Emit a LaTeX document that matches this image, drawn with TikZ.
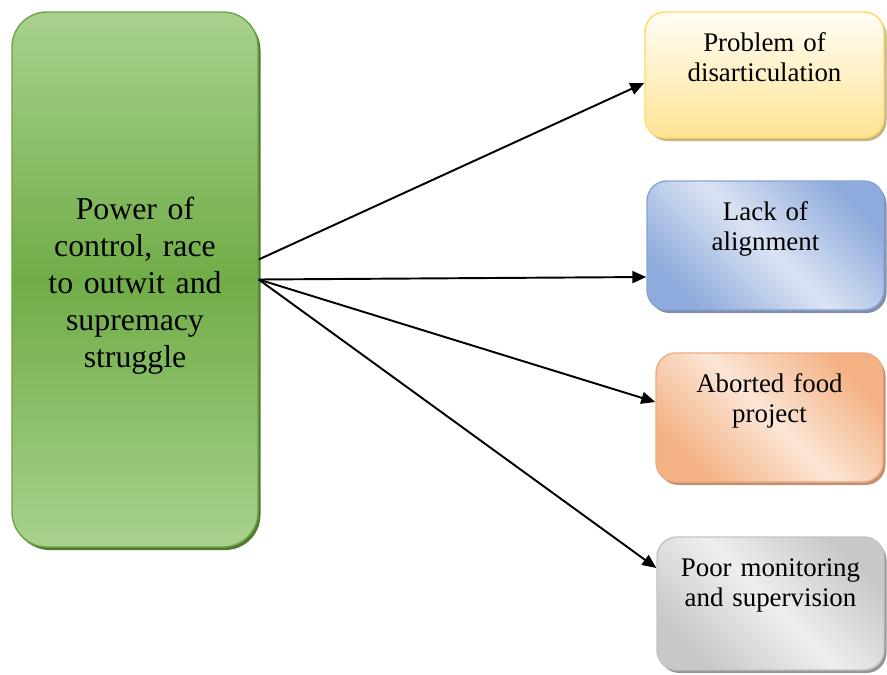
\documentclass[tikz,border=0pt]{standalone}
\usepackage{fontspec}
\setmainfont{Liberation Serif}
\usetikzlibrary{arrows.meta, positioning, shadows}
\definecolor{ctrldark}{RGB}{112,173,71}
\definecolor{ctrllight}{RGB}{169,209,142}
\definecolor{ctrledge}{RGB}{108,165,68}
\definecolor{ctrlshadow}{RGB}{80,122,50}
\definecolor{probdark}{RGB}{255,228,148}
\definecolor{problight}{RGB}{255,253,246}
\definecolor{probedge}{RGB}{255,217,102}
\definecolor{probshadow}{RGB}{196,180,132}
\definecolor{lackdark}{RGB}{143,170,220}
\definecolor{lacklight}{RGB}{218,227,243}
\definecolor{lackedge}{RGB}{135,163,216}
\definecolor{lackshadow}{RGB}{130,142,168}
\definecolor{fooddark}{RGB}{244,177,131}
\definecolor{foodlight}{RGB}{251,229,214}
\definecolor{foodedge}{RGB}{240,170,125}
\definecolor{foodshadow}{RGB}{192,144,112}
\definecolor{monidark}{RGB}{200,200,200}
\definecolor{monilight}{RGB}{238,238,238}
\definecolor{moniedge}{RGB}{195,195,195}
\definecolor{monishadow}{RGB}{150,150,150}

\begin{document}
\begin{tikzpicture}[
  >=Triangle,
  cause/.style={
    rectangle, rounded corners=0.7cm, draw=ctrledge, line width=0.8pt,
    top color=ctrllight, bottom color=ctrllight, middle color=ctrldark,
    drop shadow={shadow xshift=0.05cm, shadow yshift=-0.06cm, fill=ctrlshadow, opacity=1},
    minimum width=4.92cm, minimum height=10.7cm, text width=4.92cm,
    inner sep=0pt, align=center, font=\fontsize{18.1}{21}\selectfont
  },
  effect/.style={
    rectangle, rounded corners=0.4cm, draw=#1edge, line width=0.8pt,
    top color=#1dark, bottom color=#1dark, middle color=#1light, shading angle=-45,
    drop shadow={shadow xshift=0.05cm, shadow yshift=-0.06cm, fill=#1shadow, opacity=1},
    inner sep=0pt, align=center, text height=0.78cm,
    font=\fontsize{15.3}{17.6}\selectfont
  },
  link/.style={->, >={Triangle[length=0.28cm, width=0.24cm]}, line width=1.1pt},
]

\useasboundingbox (0,0) rectangle (17.74,-13.5);

\def\colL{2.70}

% Main cause
\node[cause, text height=0.36cm, text depth=2.76cm] (power) at (\colL, -5.59)
  {Power of\\control, race\\to outwit and\\supremacy\\struggle};

% Effects
\node[effect=prob, shading angle=0, top color=problight, bottom color=probdark,
      text width=4.78cm, text depth=1.74cm] (disart) at (15.29, -1.50)
  {Problem of\\disarticulation};
\node[effect=lack, text width=4.74cm, text depth=1.80cm] (lack) at (15.31, -4.91)
  {Lack of\\alignment};
\node[effect=food, text width=4.54cm, text depth=1.80cm] (food) at (15.39, -8.35)
  {Aborted food\\project};
\node[effect=moni, text width=4.54cm, text depth=1.88cm] (monitor) at (15.41, -12.07)
  {Poor monitoring\\and supervision};

% Arrows
\draw[link] ([yshift=0.4cm]power.east) -- ([yshift=-0.16cm]disart.west);
\draw[link] (power.east) -- ([yshift=-0.63cm]lack.west);
\draw[link] (power.east) -- ([yshift=0.31cm]food.west);
\draw[link] (power.east) -- ([yshift=0.71cm]monitor.west);

\end{tikzpicture}
\end{document}
